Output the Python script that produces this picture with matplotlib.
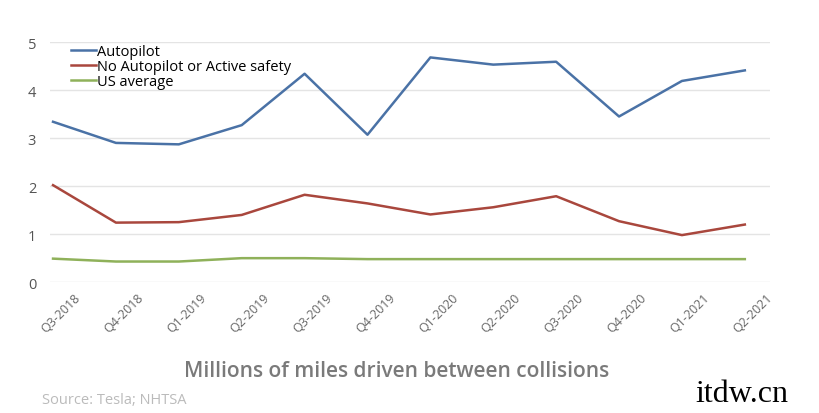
import numpy as np
import matplotlib.pyplot as plt
import matplotlib.transforms as mtransforms

quarters = ["Q3-2018", "Q4-2018", "Q1-2019", "Q2-2019", "Q3-2019", "Q4-2019",
            "Q1-2020", "Q2-2020", "Q3-2020", "Q4-2020", "Q1-2021", "Q2-2021"]
autopilot = [3.34, 2.90, 2.87, 3.27, 4.34, 3.07, 4.68, 4.53, 4.59, 3.45, 4.19, 4.41]
no_autopilot = [2.02, 1.24, 1.25, 1.40, 1.82, 1.64, 1.41, 1.56, 1.79, 1.27, 0.98, 1.20]
us_average = [0.49, 0.43, 0.43, 0.50, 0.50, 0.48, 0.48, 0.48, 0.48, 0.48, 0.48, 0.48]

plt.rcParams['font.family'] = ['Open Sans', 'DejaVu Sans']

fig = plt.figure(figsize=(8.2, 4.14), dpi=100)
ax = fig.add_axes([0.061, 0.316, 0.878, 0.580])

x = np.arange(len(quarters))
ax.plot(x, autopilot, color='#4a72a6', lw=1.8, label='Autopilot')
ax.plot(x, no_autopilot, color='#a9473d', lw=1.8, label='No Autopilot or Active safety')
ax.plot(x, us_average, color='#8fb15a', lw=1.8, label='US average')

ax.set_ylim(0, 5)
ax.set_xlim(-0.048, 11.40)
ax.set_yticks(range(6))
ax.grid(axis='y', color='#e4e4e4', lw=1)
ax.set_axisbelow(True)
for s in ax.spines.values():
    s.set_visible(False)
ax.tick_params(axis='both', length=0)
ax.tick_params(axis='y', labelsize=10.5, labelcolor='#555555', pad=10)
ax.set_xticks(x)
ax.set_xticklabels(quarters, rotation=45, ha='center', fontsize=9, color='#666666')
ax.tick_params(axis='x', pad=6)
# nudge the rotated labels a bit to the right, like the original
shift = mtransforms.ScaledTranslation(8 / 100, 0, fig.dpi_scale_trans)
for lbl in ax.get_xticklabels():
    lbl.set_transform(lbl.get_transform() + shift)

ax.legend(loc='upper left', bbox_to_anchor=(0.015, 1.035), frameon=False,
          fontsize=10.5, handlelength=1.7, handletextpad=0.1, labelspacing=0.0,
          borderaxespad=0.3)

fig.text(0.484, 0.09, 'Millions of miles driven between collisions', ha='center',
         fontsize=15, fontweight='semibold', color='#7a7a7a')
fig.text(0.051, 0.025, 'Source: Tesla; NHTSA', ha='left', fontsize=10.5, color='#bbbbbb')
fig.text(0.848, 0.028, 'itdw.cn', ha='left', fontsize=23, color='black',
         family=['Liberation Serif', 'DejaVu Serif'])

fig.savefig('out.png', dpi=100)
